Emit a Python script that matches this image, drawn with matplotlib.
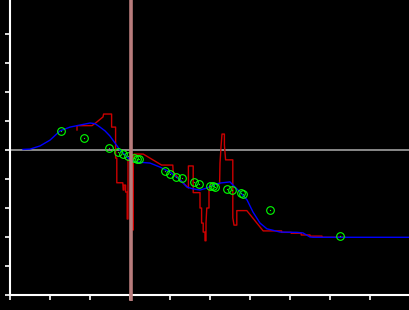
import numpy as np
import matplotlib
matplotlib.use("Agg")
import matplotlib.pyplot as plt

# smooth fit (blue)
fit_x = [0.325, 0.5, 0.75, 1.0, 1.25, 1.5, 1.75, 2.0, 2.125, 2.25, 2.375, 2.5, 2.625,
         2.75, 2.875, 3.0, 3.125, 3.5, 3.75, 4.0, 4.25, 4.425, 4.575, 4.75, 4.925,
         5.075, 5.25, 5.5, 5.575, 5.75, 5.925, 6.075, 6.25, 6.425, 6.55, 6.75, 7.175,
         7.325, 7.5, 7.575, 10.0]
fit_y = [0.02, 0.03, 0.14, 0.34, 0.66, 0.79, 0.86, 0.93, 0.91, 0.79, 0.66, 0.48, 0.24,
         0.0, -0.17, -0.34, -0.41, -0.45, -0.59, -0.76, -1.03, -1.28, -1.34, -1.38, -1.31,
         -1.21, -1.14, -1.10, -1.21, -1.45, -1.72, -2.14, -2.52, -2.72, -2.76, -2.83, -2.84,
         -2.86, -3.0, -3.01, -3.01]

# raw signal (red)
raw_x = [1.675, 1.675, 2.05, 2.175, 2.325, 2.34, 2.54, 2.54, 2.64, 2.64, 2.67, 2.67,
         2.82, 2.83, 2.85, 2.85, 2.89, 2.89, 2.93, 2.93, 2.95, 2.95, 3.06, 3.07, 3.08,
         3.08, 3.1, 3.33, 3.79, 4.07, 4.08, 4.25, 4.46, 4.46, 4.58, 4.58, 4.75, 4.75,
         4.79, 4.79, 4.83, 4.83, 4.875, 4.875, 4.9, 4.9, 4.92, 4.975, 4.975, 5.025, 5.24,
         5.25, 5.275, 5.3, 5.36, 5.36, 5.39, 5.57, 5.57, 5.6, 5.67, 5.67, 5.92, 6.33,
         6.79, 6.79, 7.03, 7.03, 7.28, 7.28, 7.5, 7.5, 7.8, 7.8, 8.375]
raw_y = [0.69, 0.84, 0.84, 0.97, 1.14, 1.24, 1.24, 0.79, 0.79, -0.28, -0.28, -1.13,
         -1.13, -1.38, -1.38, -1.21, -1.21, -1.45, -1.45, -2.38, -2.38, -0.34, -0.34, -2.76, -2.76,
         -0.45, -0.14, -0.14, -0.52, -0.52, -0.76, -1.03, -1.31, -0.55, -0.55, -1.47, -1.47, -2.0,
         -2.0, -2.52, -2.52, -2.83, -2.83, -3.13, -3.13, -2.52, -2.0, -2.0, -1.38, -1.17, -1.17,
         -0.45, 0.1, 0.55, 0.55, 0.17, -0.34, -0.34, -2.34, -2.59, -2.59, -2.09, -2.09, -2.79,
         -2.79, -2.84, -2.84, -2.87, -2.87, -2.93, -2.93, -2.97, -2.97, -3.01, -3.01]

# samples (green circles)
pts_x = [1.275, 1.85, 2.475, 2.7, 2.825, 2.95, 3.11, 3.18, 3.225, 3.875, 4.0, 4.15, 4.3,
         4.6, 4.725, 5.0, 5.075, 5.125, 5.425, 5.55, 5.775, 5.825, 6.5, 8.25]
pts_y = [0.66, 0.41, 0.07, -0.07, -0.14, -0.21, -0.29, -0.31, -0.32, -0.72, -0.83, -0.93,
         -0.97, -1.10, -1.17, -1.24, -1.24, -1.28, -1.34, -1.38, -1.48, -1.52, -2.07, -2.97]

marker_x = 3.0125

fig = plt.figure(figsize=(4.1, 3.1), dpi=100, facecolor='black')
ax = fig.add_axes([10 / 410, 15 / 310, 400 / 410, 295 / 310])
ax.set_facecolor('black')

ax.axhline(0, color='#a0a0a0', lw=1.2, zorder=1)
ax.plot(raw_x, raw_y, color='#cc0000', lw=1.0, zorder=2)
ax.plot(fit_x, fit_y, color='#0000ff', lw=1.0, zorder=3)
ax.plot(pts_x, pts_y, 'o', ms=5.5, mfc='none', mec='#00ff00', mew=0.8, zorder=4)
ax.plot(pts_x, pts_y, 's', ms=0.8, color='#00ff00', mew=0, zorder=4)
ax.plot([marker_x, marker_x], [-5.2, 5.2], color='#b87c7c', lw=2.6, zorder=5,
        clip_on=False, solid_capstyle='butt')

ax.set_xlim(0, 10)
ax.set_ylim(-5, 150 / 29)
ax.set_xticks(np.arange(0, 11, 1))
ax.set_yticks(np.arange(-5, 5, 1))
ax.tick_params(colors='white', length=3.5, width=1.2, labelbottom=False, labelleft=False)
for s in ['top', 'right']:
    ax.spines[s].set_visible(False)
for s in ['left', 'bottom']:
    ax.spines[s].set_color('white')
    ax.spines[s].set_linewidth(1.5)

fig.savefig('out.png', dpi=100, facecolor='black')
